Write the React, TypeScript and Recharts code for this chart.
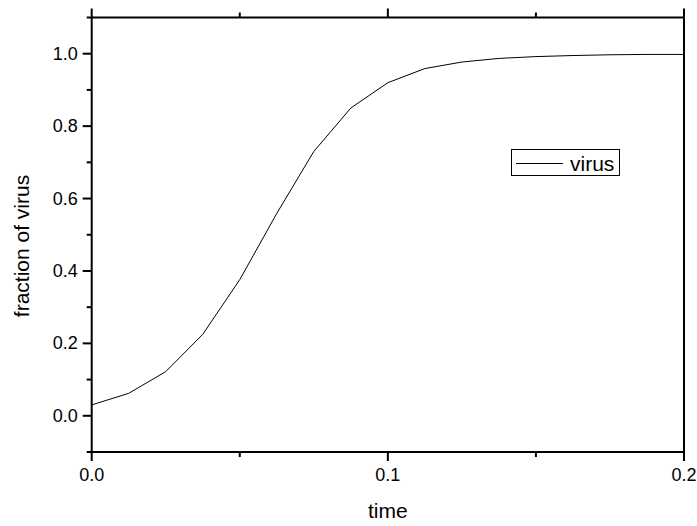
import { LineChart, Line, XAxis, YAxis, Legend, Label } from "recharts";

// simulated fraction of virus over time
const times = [
  0, 0.0125, 0.025, 0.0375, 0.05, 0.0625, 0.075, 0.0875, 0.1, 0.1125, 0.125,
  0.1375, 0.15, 0.1625, 0.175, 0.1875, 0.2,
];
const virus = [
  0.03, 0.062, 0.122, 0.225, 0.376, 0.559, 0.73, 0.85, 0.92, 0.959, 0.977,
  0.987, 0.992, 0.995, 0.997, 0.998, 0.998,
];

const xTicks = [0, 0.05, 0.1, 0.15, 0.2];
const yTicks = [-0.1, 0, 0.1, 0.2, 0.3, 0.4, 0.5, 0.6, 0.7, 0.8, 0.9, 1.0, 1.1];

const data = times.map((t, i) => ({ time: t, virus: virus[i] }));

const FONT = "'Liberation Sans', Arial, sans-serif";
const MAJOR = 9;
const MINOR = 5;

const isMajorX = (v: number) => Math.abs(v * 10 - Math.round(v * 10)) < 1e-6;
const isMajorY = (v: number) =>
  Math.abs(v * 10 - Math.round(v * 10)) < 1e-6 &&
  Math.round(v * 10) % 2 === 0 &&
  v >= 0 &&
  v <= 1.0001;

const BottomTick = ({ x, y, payload }: any) => {
  const major = isMajorX(payload.value);
  return (
    <g>
      <line x1={x} x2={x} y1={y} y2={y + (major ? MAJOR : MINOR)} stroke="#000" strokeWidth={2} />
      {major && (
        <text x={x} y={y + 23} textAnchor="middle" dominantBaseline="central" fontSize={18} fontFamily={FONT} fill="#000">
          {payload.value.toFixed(1)}
        </text>
      )}
    </g>
  );
};

const TopTick = ({ x, y, payload }: any) => {
  const major = isMajorX(payload.value);
  return <line x1={x} x2={x} y1={y} y2={y - (major ? MAJOR : MINOR)} stroke="#000" strokeWidth={2} />;
};

const LeftTick = ({ x, y, payload }: any) => {
  const major = isMajorY(payload.value);
  return (
    <g>
      <line x1={x} x2={x - (major ? MAJOR : MINOR)} y1={y} y2={y} stroke="#000" strokeWidth={2} />
      {major && (
        <text x={x - 14} y={y} textAnchor="end" dominantBaseline="central" fontSize={18} fontFamily={FONT} fill="#000">
          {payload.value.toFixed(1)}
        </text>
      )}
    </g>
  );
};

const RightTick = ({ x, y, payload }: any) => {
  const major = isMajorY(payload.value);
  return <line x1={x} x2={x + (major ? MAJOR : MINOR)} y1={y} y2={y} stroke="#000" strokeWidth={2} />;
};

const renderLegend = () => (
  <svg width={109} height={27} style={{ display: "block" }}>
    <rect x={0.5} y={0.5} width={108} height={26} fill="#fff" stroke="#000" strokeWidth={1} />
    <line x1={5} x2={52} y1={14.5} y2={14.5} stroke="#000" strokeWidth={1} />
    <text x={59} y={21.5} fontSize={21} fontFamily={FONT} fill="#000">
      virus
    </text>
  </svg>
);

export default function App() {
  return (
    <div style={{ width: 697, height: 526, background: "#fff" }}>
      <style>{`body{margin:0}`}</style>
      <LineChart width={697} height={526} data={data} margin={{ top: 0, right: 0, bottom: 0, left: 0 }}>
        <XAxis
          dataKey="time"
          type="number"
          domain={[0, 0.2]}
          ticks={xTicks}
          interval={0}
          height={74}
          tickSize={0}
          tickMargin={0}
          tick={BottomTick}
          axisLine={{ stroke: "#000", strokeWidth: 2 }}
        >
          <Label
            content={({ viewBox }: any) => (
              <text
                x={viewBox.x + viewBox.width / 2}
                y={517.5}
                textAnchor="middle"
                fontSize={21}
                fontFamily={FONT}
                fill="#000"
              >
                time
              </text>
            )}
          />
        </XAxis>
        <XAxis
          xAxisId="top"
          orientation="top"
          dataKey="time"
          type="number"
          domain={[0, 0.2]}
          ticks={xTicks}
          interval={0}
          height={17.5}
          tickSize={0}
          tickMargin={0}
          tick={TopTick}
          axisLine={{ stroke: "#000", strokeWidth: 2 }}
        />
        <YAxis
          type="number"
          domain={[-0.1, 1.1]}
          ticks={yTicks}
          interval={0}
          width={91.7}
          tickSize={0}
          tickMargin={0}
          tick={LeftTick}
          axisLine={{ stroke: "#000", strokeWidth: 2 }}
        >
          <Label
            content={() => (
              <text
                x={21}
                y={246}
                transform="rotate(-90 21 246)"
                textAnchor="middle"
                dominantBaseline="central"
                fontSize={21}
                fontFamily={FONT}
                fill="#000"
              >
                fraction of virus
              </text>
            )}
          />
        </YAxis>
        <YAxis
          yAxisId="right"
          orientation="right"
          type="number"
          domain={[-0.1, 1.1]}
          ticks={yTicks}
          interval={0}
          width={13}
          tickSize={0}
          tickMargin={0}
          tick={RightTick}
          axisLine={{ stroke: "#000", strokeWidth: 2 }}
        />
        <Legend
          layout="horizontal"
          verticalAlign="middle"
          align="center"
          content={renderLegend}
          wrapperStyle={{ position: "absolute", left: 511, top: 149, width: 109, height: 27 }}
        />
        <Line
          type="linear"
          dataKey="virus"
          stroke="#000"
          strokeWidth={1}
          dot={false}
          isAnimationActive={false}
        />
      </LineChart>
    </div>
  );
}
